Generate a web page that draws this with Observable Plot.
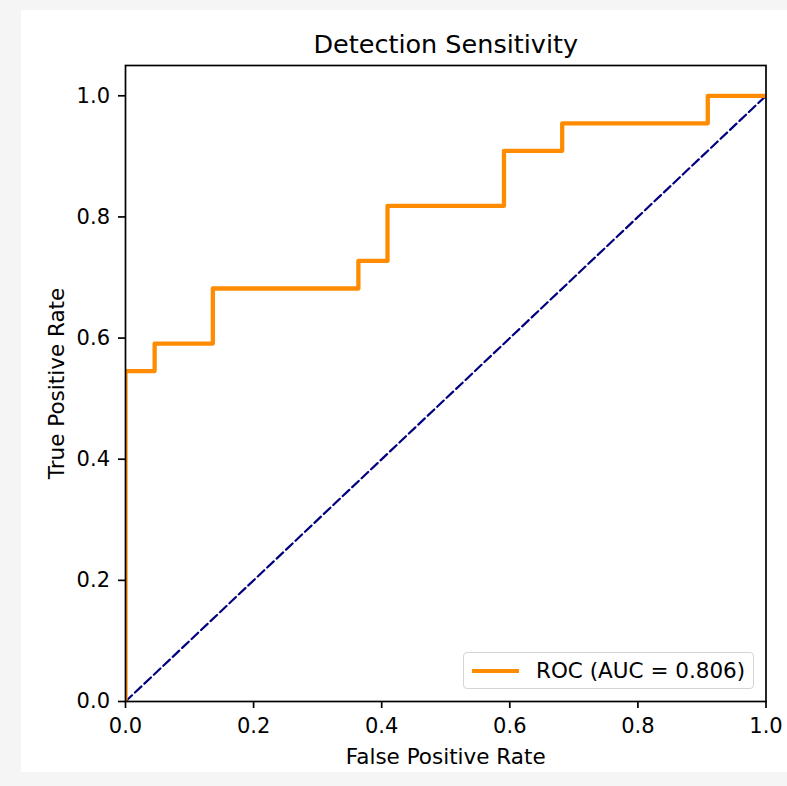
<!DOCTYPE html>
<html>
<head>
<meta charset="utf-8">
<script src="https://cdn.jsdelivr.net/npm/d3@7"></script>
<script src="https://cdn.jsdelivr.net/npm/@observablehq/plot@0.6"></script>
<style>
  html, body { margin: 0; padding: 0; background: #f5f5f5; font-family: "DejaVu Sans", sans-serif; }
  #fig { position: absolute; left: 21px; top: 10px; width: 766px; height: 762px; background: #ffffff; }
  #legend { position: absolute; left: 442px; top: 642px; width: 289px; height: 35px;
            border: 1.5px solid #d4d4d4; border-radius: 4px; background: rgba(255,255,255,0.85);
            display: flex; align-items: center; font-size: 21.5px; color: #000; box-sizing: content-box; }
  #legend .swatch { width: 47px; height: 0; border-top: 4.3px solid #ff8c00; margin-left: 8px; margin-right: 17px; }
  #legend .label { white-space: nowrap; line-height: 1; }
</style>
</head>
<body>
<div id="fig"></div>
<script>
// ROC curve corner points (false positive rate / true positive rate)
const fpr = [0, 0, 0.0455, 0.0455, 0.1364, 0.1364, 0.3636, 0.3636, 0.4091, 0.4091, 0.5909, 0.5909, 0.6818, 0.6818, 0.9091, 0.9091, 1.0];
const tpr = [0, 0.5455, 0.5455, 0.5909, 0.5909, 0.6818, 0.6818, 0.7273, 0.7273, 0.8182, 0.8182, 0.9091, 0.9091, 0.9545, 0.9545, 1.0, 1.0];
// chance diagonal
const chanceX = [0, 1];
const chanceY = [0, 1];
const xTicks = [0, 0.2, 0.4, 0.6, 0.8, 1.0];
const yTicks = [0, 0.2, 0.4, 0.6, 0.8, 1.0];
const aucValue = 0.806;
const titleText = "Detection Sensitivity";
const xLabel = "False Positive Rate";
const yLabel = "True Positive Rate";

const roc = fpr.map((x, i) => ({x, y: tpr[i]}));
const chance = chanceX.map((x, i) => ({x, y: chanceY[i]}));

const chart = Plot.plot({
  width: 766,
  height: 762,
  marginLeft: 104,
  marginRight: 21.5,
  marginTop: 55,
  marginBottom: 71,
  x: {domain: [0, 1]},
  y: {domain: [0, 1.05]},
  style: {fontFamily: "DejaVu Sans", fontSize: "21px", background: "transparent", color: "#000", overflow: "visible"},
  marks: [
    Plot.line(chance, {x: "x", y: "y", stroke: "#000080", strokeWidth: 2.2, strokeDasharray: "9,4", clip: true}),
    Plot.line(roc, {x: "x", y: "y", stroke: "#ff8c00", strokeWidth: 4.3, strokeLinejoin: "round", clip: true}),
    Plot.frame({stroke: "#000", strokeWidth: 1.7}),
    Plot.axisX({ticks: xTicks, tickFormat: d3.format(".1f"), tickSize: 7, tickPadding: 9.5, fontSize: 21, strokeWidth: 1.7, label: null}),
    Plot.axisY({ticks: yTicks, tickFormat: d3.format(".1f"), tickSize: 7, tickPadding: 8.5, fontSize: 21, strokeWidth: 1.7, label: null}),
    Plot.text([titleText], {text: d => d, frameAnchor: "top", dy: -12.3, lineAnchor: "bottom", fontSize: 25.5}),
    Plot.text([xLabel], {text: d => d, frameAnchor: "bottom", dy: 62.3, lineAnchor: "bottom", fontSize: 21.5}),
    Plot.text([yLabel], {text: d => d, frameAnchor: "left", textAnchor: "middle", dx: -62, dy: 0, rotate: -90, lineAnchor: "bottom", fontSize: 21.5})
  ]
});

const fig = document.getElementById("fig");
fig.appendChild(chart);

const legend = document.createElement("div");
legend.id = "legend";
legend.innerHTML = `<div class="swatch"></div><div class="label">ROC (AUC = ${aucValue.toFixed(3)})</div>`;
fig.appendChild(legend);
</script>
</body>
</html>
